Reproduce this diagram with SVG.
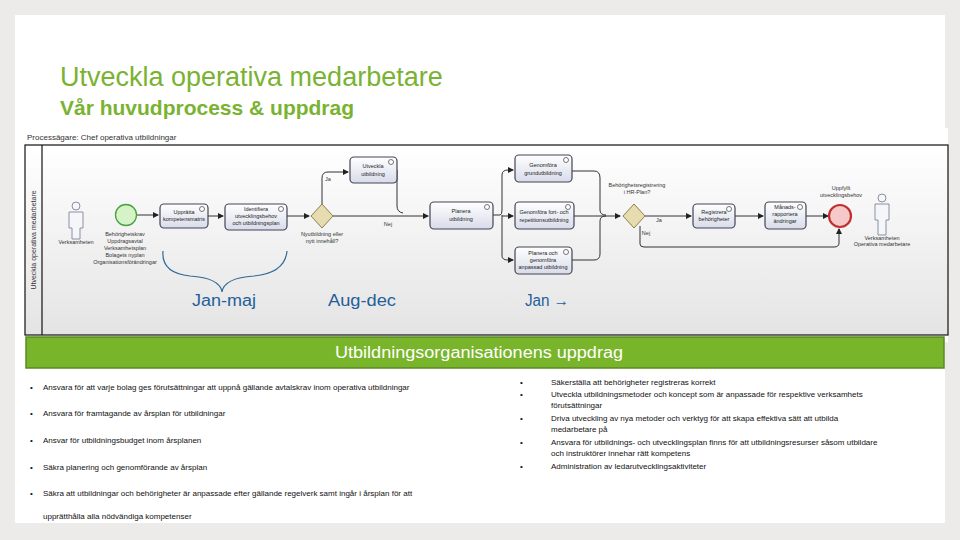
<svg xmlns="http://www.w3.org/2000/svg" width="960" height="540" viewBox="0 0 960 540">
<defs>
<linearGradient id="bg" x1="0" y1="0" x2="0" y2="1"><stop offset="0" stop-color="#ffffff"/><stop offset="1" stop-color="#e4e4e4"/></linearGradient>
<linearGradient id="task" x1="0" y1="0" x2="0" y2="1"><stop offset="0" stop-color="#ffffff"/><stop offset="1" stop-color="#d8dcea"/></linearGradient>
<marker id="ah" markerWidth="6" markerHeight="6" refX="5" refY="3" orient="auto"><path d="M0,0 L6,3 L0,6 z" fill="#222"/></marker>
</defs>
<style>
.t{font-family:"Liberation Sans",Arial,sans-serif}
.task{fill:url(#task);stroke:#445;stroke-width:1.2}
.tt{font-family:"Liberation Sans",sans-serif;font-size:5.5px;fill:#222;text-anchor:middle}
.sm{font-family:"Liberation Sans",sans-serif;font-size:5.5px;fill:#333;text-anchor:middle}
.ring{fill:#fff;stroke:#555;stroke-width:0.8}
.gw{fill:#e6dcb0;stroke:#8a7f4a;stroke-width:1}
.c{fill:none;stroke:#333;stroke-width:1}
.time{font-family:"Liberation Sans",sans-serif;font-size:16px;fill:#1f5f9a;text-anchor:middle}
.b{font-family:"Liberation Sans",sans-serif;font-size:8px;fill:#111}
.person{fill:#f4f6fa;stroke:#8a90a0;stroke-width:1}
</style>
<rect width="960" height="540" fill="#ecebe9"/>
<rect x="15" y="15" width="930" height="508" fill="#ffffff"/>
<text class="t" x="60" y="86" font-size="27" fill="#7ab232">Utveckla operativa medarbetare</text>
<text class="t" x="60" y="115" font-size="21" font-weight="bold" fill="#7ab232">Vår huvudprocess &amp; uppdrag</text>

<g id="pool">
<rect x="25" y="128" width="923" height="214" fill="#ffffff"/>
<text class="t" x="27" y="140" font-size="8" fill="#333">Processägare: Chef operativa utbildningar</text>
<rect x="25" y="145" width="923" height="190" fill="url(#bg)" stroke="#111" stroke-width="1.2"/>
<line x1="42" y1="145" x2="42" y2="335" stroke="#111" stroke-width="1.2"/>
<text class="t" font-size="7" fill="#333" text-anchor="middle" transform="translate(36,240) rotate(-90)">Utveckla operativa medarbetare</text>
</g>

<g id="connectors">
<line class="c" x1="137" y1="215" x2="158" y2="215" marker-end="url(#ah)"/>
<line class="c" x1="207" y1="216" x2="223" y2="216" marker-end="url(#ah)"/>
<line class="c" x1="287" y1="216" x2="309" y2="216" marker-end="url(#ah)"/>
<path class="c" d="M322,204 V178 Q322,172 328,172 H348" marker-end="url(#ah)"/>
<text class="sm" x="328" y="181">Ja</text>
<line class="c" x1="333" y1="216" x2="428" y2="216" marker-end="url(#ah)"/>
<text class="sm" x="388" y="226">Nej</text>
<path class="c" d="M397,170 V206 Q397,212 403,213"/>
<path class="c" d="M493,215 H500 Q502,215 502,210 V175 Q502,170 508,170 H513" marker-end="url(#ah)"/>
<line class="c" x1="502" y1="216" x2="513" y2="216" marker-end="url(#ah)"/>
<path class="c" d="M502,215 V256 Q502,260 508,260 H513" marker-end="url(#ah)"/>
<path class="c" d="M572,171 H594 Q600,171 600,178 V210 Q600,215 606,215"/>
<path class="c" d="M574,216 H620" marker-end="url(#ah)"/>
<path class="c" d="M572,260 H594 Q600,260 600,254 V221 Q600,216 606,216"/>
<line class="c" x1="645" y1="216" x2="691" y2="216" stroke="#ccc" marker-end="url(#ah)"/>
<text class="sm" x="659" y="222">Ja</text>
<line class="c" x1="735" y1="216" x2="763" y2="216" marker-end="url(#ah)"/>
<line class="c" x1="806" y1="216" x2="828" y2="216" marker-end="url(#ah)"/>
<path class="c" d="M640,226 V244 Q640,247 644,247 H834 Q839,247 839,243 V229" marker-end="url(#ah)"/>
<text class="sm" x="646" y="235">Nej</text>
<path d="M163,251 Q161,273 190,276 Q220,278 222,292 Q224,278 254,276 Q285,273 287,251" fill="none" stroke="#2e6a9a" stroke-width="1.2"/>
</g>

<g id="n-person1"><circle class="person" cx="76" cy="206" r="4"/><path class="person" d="M69,212 H83 V228 H80 V239 H72 V228 H69 z"/><text class="sm" x="76" y="244">Verksamheten</text></g>
<g id="n-start"><circle cx="126" cy="215" r="10.5" fill="#d6f3c8" stroke="#48a040" stroke-width="1.3"/>
<text class="sm" x="125" y="236">Behörighetskrav</text><text class="sm" x="125" y="243">Uppdragsavtal</text><text class="sm" x="125" y="250">Verksamhetsplan</text><text class="sm" x="125" y="257">Bolagets nyplan</text><text class="sm" x="125" y="264">Organisationsförändringar</text></g>
<g id="n-upprata"><rect class="task" x="160" y="204" width="48" height="24" rx="4"/><circle class="ring" cx="202" cy="209" r="2.5"/><text class="tt" x="184" y="214">Upprätta</text><text class="tt" x="184" y="221">kompetensmatris</text></g>
<g id="n-identifiera"><rect class="task" x="225" y="204" width="62" height="26" rx="4"/><circle class="ring" cx="281" cy="209" r="2.5"/><text class="tt" x="256" y="211">Identifiera</text><text class="tt" x="256" y="218">utvecklingsbehov</text><text class="tt" x="256" y="225">och utbildningsplan</text></g>
<g id="n-gw1"><path class="gw" d="M322,204 L333,216 L322,228 L311,216 z"/><text class="sm" x="322" y="236">Nyutbildning eller</text><text class="sm" x="322" y="243">nytt innehåll?</text></g>
<g id="n-utveckla"><rect class="task" x="350" y="157" width="47" height="26" rx="4"/><circle class="ring" cx="391" cy="162" r="2.5"/><text class="tt" x="373" y="168">Utveckla</text><text class="tt" x="373" y="176">utbildning</text></g>
<g id="n-planera"><rect class="task" x="430" y="202" width="63" height="27" rx="4"/><circle class="ring" cx="487" cy="207" r="2.5"/><text class="tt" x="461" y="213">Planera</text><text class="tt" x="461" y="221">utbildning</text></g>
<g id="n-grund"><rect class="task" x="515" y="155" width="57" height="27" rx="4"/><circle class="ring" cx="566" cy="160" r="2.5"/><text class="tt" x="543" y="167">Genomföra</text><text class="tt" x="543" y="175">grundutbildning</text></g>
<g id="n-fort"><rect class="task" x="515" y="202" width="59" height="27" rx="4"/><circle class="ring" cx="568" cy="207" r="2.5"/><text class="tt" x="544" y="214">Genomföra fort- och</text><text class="tt" x="544" y="222">repetitionsutbildning</text></g>
<g id="n-anpassad"><rect class="task" x="515" y="247" width="57" height="27" rx="4"/><circle class="ring" cx="566" cy="252" r="2.5"/><text class="tt" x="543" y="255">Planera och</text><text class="tt" x="543" y="262">genomföra</text><text class="tt" x="543" y="269">anpassad utbildning</text></g>
<g id="n-gw2"><path class="gw" d="M634,204 L645,216 L634,228 L623,216 z"/><text class="sm" x="637" y="187">Behörighetsregistrering</text><text class="sm" x="637" y="194">i HR-Plan?</text></g>
<g id="n-reg"><rect class="task" x="693" y="204" width="42" height="24" rx="4"/><circle class="ring" cx="729" cy="209" r="2.5"/><text class="tt" x="714" y="214">Registrera</text><text class="tt" x="714" y="221">behörigheter</text></g>
<g id="n-man"><rect class="task" x="765" y="202" width="41" height="27" rx="4"/><circle class="ring" cx="800" cy="207" r="2.5"/><text class="tt" x="785" y="209">Månads-</text><text class="tt" x="785" y="216">rapportera</text><text class="tt" x="785" y="223">ändringar</text></g>
<g id="n-end"><circle cx="840" cy="216" r="11" fill="#f6c8c8" stroke="#c03030" stroke-width="2.2"/><text class="sm" x="841" y="190">Uppfyllt</text><text class="sm" x="841" y="197">utvecklingsbehov</text></g>
<g id="n-person2"><circle class="person" cx="882" cy="198" r="4"/><path class="person" d="M875,204 H889 V220 H886 V235 H878 V220 H875 z"/><text class="sm" x="882" y="240">Verksamheten</text><text class="sm" x="882" y="246">Operativa medarbetare</text></g>

<g id="timeline">
<text class="time" x="224" y="306" textLength="64" lengthAdjust="spacingAndGlyphs">Jan-maj</text>
<text class="time" x="362" y="306" textLength="68" lengthAdjust="spacingAndGlyphs">Aug-dec</text>
<text class="time" x="547" y="306" textLength="44" lengthAdjust="spacingAndGlyphs">Jan →</text>
</g>

<g id="band"><rect x="26" y="337" width="918" height="31" fill="#78b52a" stroke="#5a8a22" stroke-width="1.5"/>
<text x="479" y="358" text-anchor="middle" font-family="Liberation Sans,sans-serif" font-size="16" fill="#fff" textLength="288" lengthAdjust="spacingAndGlyphs">Utbildningsorganisationens uppdrag</text></g>

<g id="left-list">
<text class="b" x="30" y="390">•</text><text class="b" x="43" y="390">Ansvara för att varje bolag ges förutsättningar att uppnå gällande avtalskrav inom operativa utbildningar</text>
<text class="b" x="30" y="416">•</text><text class="b" x="43" y="416">Ansvara för framtagande av årsplan för utbildningar</text>
<text class="b" x="30" y="443">•</text><text class="b" x="43" y="443">Ansvar för utbildningsbudget inom årsplanen</text>
<text class="b" x="30" y="470">•</text><text class="b" x="43" y="470">Säkra planering och genomförande av årsplan</text>
<text class="b" x="30" y="496">•</text><text class="b" x="43" y="496">Säkra att utbildningar och behörigheter är anpassade efter gällande regelverk samt ingår i årsplan för att</text>
<text class="b" x="43" y="519">upprätthålla alla nödvändiga kompetenser</text>
</g>
<g id="right-list">
<text class="b" x="520" y="385">•</text><text class="b" x="551" y="385">Säkerställa att behörigheter registreras korrekt</text>
<text class="b" x="520" y="397">•</text><text class="b" x="551" y="397">Utveckla utbildningsmetoder och koncept som är anpassade för respektive verksamhets</text>
<text class="b" x="551" y="408">förutsättningar</text>
<text class="b" x="520" y="421">•</text><text class="b" x="551" y="421">Driva utveckling av nya metoder och verktyg för att skapa effektiva sätt att utbilda</text>
<text class="b" x="551" y="432">medarbetare på</text>
<text class="b" x="520" y="445">•</text><text class="b" x="551" y="445">Ansvara för utbildnings- och utvecklingsplan finns för att utbildningsresurser såsom utbildare</text>
<text class="b" x="551" y="456">och instruktörer innehar rätt kompetens</text>
<text class="b" x="520" y="469">•</text><text class="b" x="551" y="469">Administration av ledarutvecklingsaktiviteter</text>
</g>
</svg>
